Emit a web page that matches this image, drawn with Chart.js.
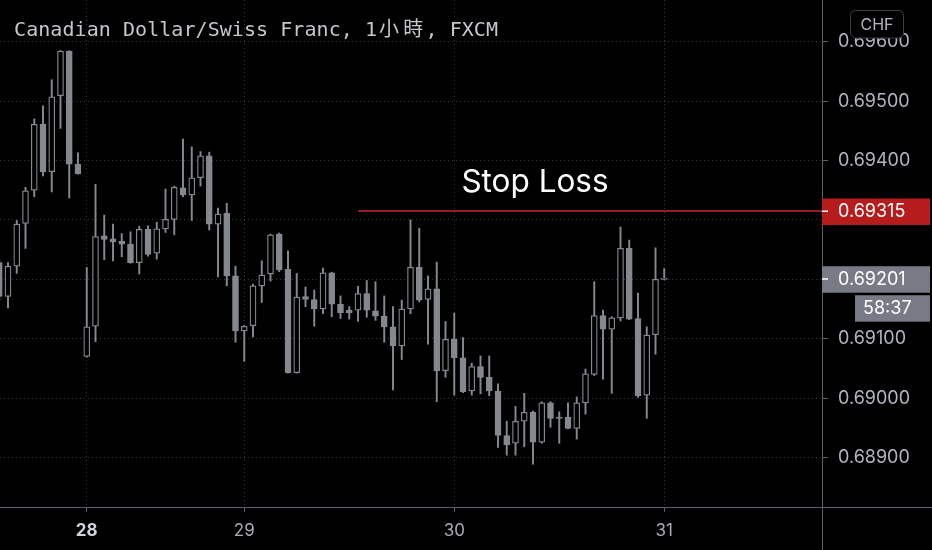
<!DOCTYPE html>
<html>
<head>
<meta charset="utf-8">
<script src="https://cdn.jsdelivr.net/npm/chart.js@4.4.0/dist/chart.umd.min.js"></script>
<style>
html, body { margin: 0; padding: 0; background: #000; }
#wrap { position: relative; width: 932px; height: 550px; }
</style>
</head>
<body>
<div id="wrap"><canvas id="myChart"></canvas></div>
<script>
// hourly candles, CAD/CHF, index 0 = first (partly hidden) bar
var opens = [
  0.69228, 0.69171, 0.69222, 0.69294, 0.69350, 0.69461, 0.69381, 0.69509, 0.69584, 0.69394,
  0.69070, 0.69121, 0.69273, 0.69268, 0.69264, 0.69259, 0.69228, 0.69284, 0.69244, 0.69285,
  0.69301, 0.69354, 0.69342, 0.69371, 0.69408, 0.69293, 0.69311, 0.69206, 0.69113, 0.69122,
  0.69189, 0.69209, 0.69276, 0.69217, 0.69043, 0.69171, 0.69166, 0.69150, 0.69211, 0.69158,
  0.69148, 0.69148, 0.69176, 0.69147, 0.69138, 0.69120, 0.69088, 0.69150, 0.69220, 0.69166,
  0.69184, 0.69046, 0.69099, 0.69068, 0.69012, 0.69053, 0.69035, 0.69012, 0.68937, 0.68924,
  0.68961, 0.68976, 0.68926, 0.68992, 0.68968, 0.68968, 0.68949, 0.68992, 0.69040, 0.69139,
  0.69116, 0.69135, 0.69252, 0.69134, 0.69005, 0.69107, 0.69200
];
var highs = [
  0.69232, 0.69228, 0.69299, 0.69355, 0.69470, 0.69492, 0.69536, 0.69585, 0.69585, 0.69413,
  0.69220, 0.69360, 0.69308, 0.69293, 0.69277, 0.69280, 0.69289, 0.69290, 0.69296, 0.69352,
  0.69357, 0.69436, 0.69423, 0.69415, 0.69414, 0.69320, 0.69328, 0.69222, 0.69122, 0.69192,
  0.69231, 0.69276, 0.69278, 0.69248, 0.69210, 0.69187, 0.69182, 0.69219, 0.69212, 0.69172,
  0.69154, 0.69188, 0.69198, 0.69196, 0.69172, 0.69154, 0.69165, 0.69300, 0.69286, 0.69206,
  0.69229, 0.69129, 0.69143, 0.69102, 0.69059, 0.69071, 0.69071, 0.69024, 0.68961, 0.68986,
  0.69008, 0.68978, 0.68994, 0.68994, 0.68977, 0.68992, 0.69002, 0.69049, 0.69196, 0.69148,
  0.69137, 0.69288, 0.69266, 0.69177, 0.69120, 0.69253, 0.69218
];
var lows = [
  0.69165, 0.69152, 0.69210, 0.69252, 0.69339, 0.69374, 0.69347, 0.69454, 0.69337, 0.69377,
  0.69069, 0.69095, 0.69233, 0.69231, 0.69238, 0.69227, 0.69209, 0.69239, 0.69234, 0.69279,
  0.69275, 0.69339, 0.69299, 0.69357, 0.69283, 0.69204, 0.69189, 0.69094, 0.69062, 0.69103,
  0.69161, 0.69197, 0.69213, 0.69042, 0.69042, 0.69154, 0.69121, 0.69142, 0.69137, 0.69134,
  0.69133, 0.69129, 0.69136, 0.69131, 0.69094, 0.69014, 0.69065, 0.69142, 0.69162, 0.69091,
  0.68994, 0.69035, 0.69005, 0.69009, 0.69005, 0.69007, 0.69004, 0.68917, 0.68904, 0.68904,
  0.68918, 0.68889, 0.68924, 0.68951, 0.68924, 0.68948, 0.68931, 0.68973, 0.69038, 0.69032,
  0.69008, 0.69130, 0.69132, 0.69001, 0.68966, 0.69074, 0.69199
];
var closes = [
  0.69171, 0.69222, 0.69293, 0.69349, 0.69461, 0.69381, 0.69507, 0.69584, 0.69394, 0.69378,
  0.69120, 0.69272, 0.69267, 0.69263, 0.69259, 0.69228, 0.69284, 0.69242, 0.69285, 0.69301,
  0.69355, 0.69342, 0.69371, 0.69408, 0.69293, 0.69310, 0.69206, 0.69113, 0.69121, 0.69189,
  0.69207, 0.69275, 0.69216, 0.69043, 0.69170, 0.69166, 0.69150, 0.69211, 0.69158, 0.69144,
  0.69144, 0.69176, 0.69148, 0.69138, 0.69120, 0.69088, 0.69150, 0.69220, 0.69165, 0.69184,
  0.69046, 0.69099, 0.69068, 0.69011, 0.69053, 0.69035, 0.69012, 0.68937, 0.68921, 0.68961,
  0.68976, 0.68926, 0.68992, 0.68966, 0.68966, 0.68949, 0.68992, 0.69041, 0.69139, 0.69116,
  0.69135, 0.69252, 0.69133, 0.69004, 0.69106, 0.69200, 0.69201
];

var dayTicks = [10, 28, 52, 76];          // bar index where each day starts
var dayLabels = ['28', '29', '30', '31'];
var priceTicks = [0.689, 0.690, 0.691, 0.692, 0.693, 0.694, 0.695, 0.696];

var stopLoss = 0.69315;
var stopLossFrom = 41;                    // bar index where the line starts
var lastPrice = 0.69201;
var countdown = '58:37';
var titleText = 'Canadian Dollar/Swiss Franc, 1小時, FXCM';
var currency = 'CHF';

var candleColor = '#85888f';
var gridColor = '#343844';
var axisColor = '#5d606b';
var tickColor = '#b2b5be';
var stopColor = '#c62828';

var bodies = opens.map(function (o, i) { return {x: i, y: [o, closes[i]]}; });
var wicks = lows.map(function (l, i) { return {x: i, y: [l, highs[i]]}; });
var stopLine = [{x: stopLossFrom, y: stopLoss}, {x: 95, y: stopLoss}];

function isUp(i) { return closes[i] >= opens[i]; }

// monospace title: latin chars take one cell, CJK chars two cells
function drawMono(ctx, text, x, y, cell) {
  for (const ch of text) {
    const wide = ch.charCodeAt(0) > 0x2e80;
    const w = wide ? cell * 2 : cell;
    ctx.font = wide ? '20px "Noto Sans CJK TC"' : '20px "DejaVu Sans Mono"';
    ctx.textAlign = 'center';
    ctx.fillText(ch, x + w / 2, y);
    x += w;
  }
}

const overlay = {
  id: 'overlay',
  afterDraw(chart) {
    const ctx = chart.ctx, a = chart.chartArea, y = chart.scales.y;
    ctx.save();
    // frame lines running across the whole canvas
    ctx.strokeStyle = axisColor;
    ctx.lineWidth = 1;
    ctx.beginPath();
    ctx.moveTo(a.right + 0.5, 0); ctx.lineTo(a.right + 0.5, chart.height);
    ctx.moveTo(0, a.bottom + 0.5); ctx.lineTo(chart.width, a.bottom + 0.5);
    ctx.stroke();

    // title
    ctx.textBaseline = 'alphabetic';
    ctx.fillStyle = '#c5c7cc';
    drawMono(ctx, titleText, 14, 35.5, 12.1);

    // stop loss caption
    ctx.textAlign = 'center';
    ctx.fillStyle = '#ffffff';
    ctx.font = '31.5px Inter';
    ctx.fillText('Stop Loss', 535, 191.5);

    // price tags on the axis
    function tag(value, color, text) {
      const py = y.getPixelForValue(value);
      ctx.fillStyle = color;
      ctx.fillRect(a.right, py - 12.5, 108, 26.5);
      ctx.fillStyle = '#ffffff';
      ctx.fillRect(a.right, py - 0.5, 6, 1.5);
      ctx.textAlign = 'left';
      ctx.textBaseline = 'middle';
      ctx.font = '18px Inter';
      ctx.fillText(text, a.right + 16, py + 1);
      return py;
    }
    tag(stopLoss, '#b71c1c', stopLoss.toFixed(5));
    const lp = tag(lastPrice, '#787b86', lastPrice.toFixed(5));
    ctx.fillStyle = '#787b86';
    ctx.fillRect(a.right + 33, lp + 16.5, 75, 26.5);
    ctx.fillStyle = '#ffffff';
    ctx.fillText(countdown, a.right + 41, lp + 30);

    // currency box
    ctx.fillStyle = '#000000';
    ctx.strokeStyle = '#3c3f47';
    ctx.beginPath();
    ctx.roundRect(850.5, 10.5, 53, 27.5, 5);
    ctx.fill();
    ctx.stroke();
    ctx.fillStyle = tickColor;
    ctx.textAlign = 'center';
    ctx.font = '16px Inter';
    ctx.fillText(currency, 877, 25);
    ctx.restore();
  }
};

const config = {
  type: 'bar',
  data: {
    datasets: [
      {
        type: 'line',
        label: 'Stop Loss',
        data: stopLine,
        borderColor: stopColor,
        borderWidth: 1.5,
        pointRadius: 0,
        order: 0
      },
      {
        label: 'Body',
        data: bodies,
        grouped: false,
        barThickness: 6,
        minBarLength: 1.2,
        borderWidth: 1.25,
        borderSkipped: false,
        borderColor: candleColor,
        backgroundColor: function (c) { return isUp(c.dataIndex) ? '#000000' : candleColor; },
        order: 1
      },
      {
        label: 'Wick',
        data: wicks,
        grouped: false,
        barThickness: 1.3,
        borderWidth: 0,
        backgroundColor: candleColor,
        order: 2
      }
    ]
  },
  options: {
    responsive: true,
    maintainAspectRatio: false,
    animation: false,
    events: [],
    layout: {padding: 0},
    plugins: {
      legend: {display: false},
      tooltip: {enabled: false}
    },
    scales: {
      x: {
        type: 'linear',
        min: 0.0857,
        max: 94.029,
        offset: false,
        grid: {offset: false, color: gridColor, tickLength: 5, tickColor: axisColor},
        border: {display: false, dash: [1, 3]},
        ticks: {
          autoSkip: false,
          maxRotation: 0,
          padding: 9,
          callback: function (v) { return dayLabels[dayTicks.indexOf(v)]; },
          color: function (c) { return c.tick && c.tick.value === dayTicks[0] ? '#d1d4dc' : '#a8abb3'; },
          font: function (c) {
            return {family: 'Inter', size: 17, weight: c.tick && c.tick.value === dayTicks[0] ? 'bold' : 'normal'};
          }
        },
        afterBuildTicks: function (s) { s.ticks = dayTicks.map(function (v) { return {value: v}; }); },
        afterFit: function (s) { s.height = 43; s.paddingLeft = 0; s.paddingRight = 0; }
      },
      y: {
        position: 'right',
        min: 0.688167,
        max: 0.696702,
        beginAtZero: false,
        grid: {color: gridColor, tickLength: 6, tickColor: axisColor},
        border: {display: false, dash: [1, 3]},
        ticks: {
          padding: 10,
          color: tickColor,
          font: {family: 'Inter', size: 18},
          callback: function (v) { return v.toFixed(5); }
        },
        afterBuildTicks: function (s) { s.ticks = priceTicks.map(function (v) { return {value: v}; }); },
        afterFit: function (s) { s.width = 110; s.paddingTop = 0; s.paddingBottom = 0; }
      }
    }
  },
  plugins: [overlay]
};

const myChart = new Chart(document.getElementById('myChart'), config);
</script>
</body>
</html>
